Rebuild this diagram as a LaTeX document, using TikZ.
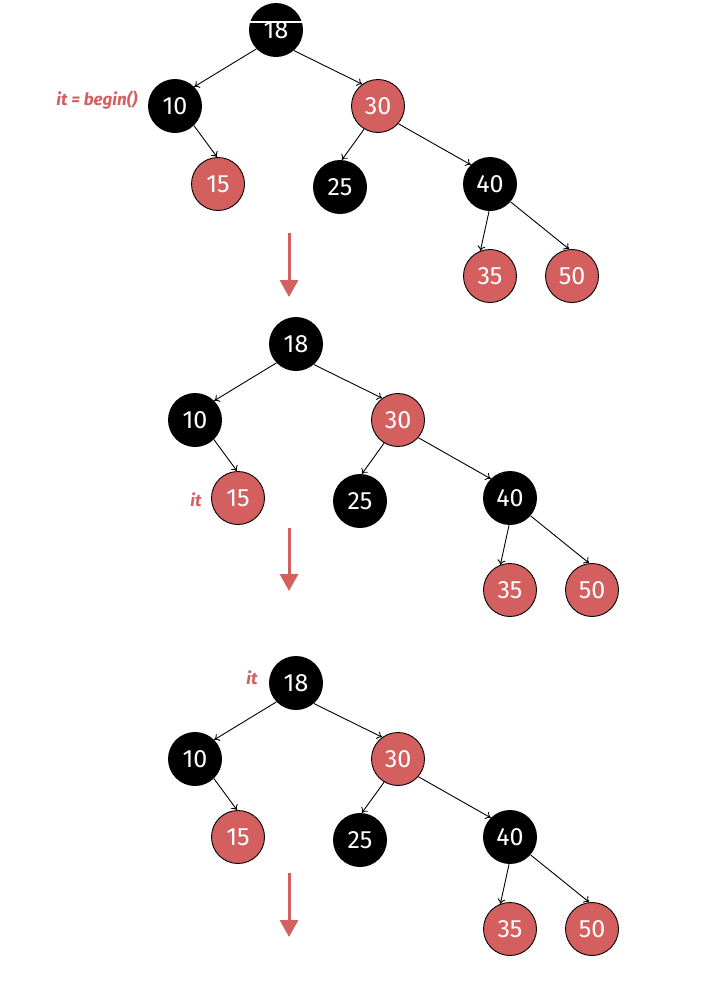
\documentclass[tikz,border=0pt]{standalone}
\usepackage{fontspec}
\setmainfont{Fira Sans}
\usetikzlibrary{arrows.meta}
\definecolor{rbRed}{RGB}{211,95,95}

\begin{document}
\begin{tikzpicture}[x=1pt, y=-1pt,
    every node/.style={font=\fontsize{25}{28}\selectfont},
    blk/.style={circle, fill=black, text=white, minimum size=54pt, inner sep=0pt},
    red/.style={circle, draw=black, line width=0.9pt, fill=rbRed, text=white, minimum size=53pt, inner sep=0pt},
    edge/.style={-{To[length=5pt,width=8pt]}, line width=0.9pt},
    iterlbl/.style={text=rbRed, font=\fontsize{17}{20}\selectfont\bfseries\itshape},
    stepArrow/.style={-{Triangle[length=17pt,width=18pt]}, rbRed, line width=3pt}]
  \useasboundingbox (0,0) rectangle (705,991);
  \clip (0,0) rectangle (705,991);
  % the same tree three times, shifted down the page
  \foreach \t/\dx/\dy in {1/0/0, 2/20/314, 3/20/653}{
    \begin{scope}[shift={(\dx,\dy)}]
      \node[blk] (n\t-18) at (276,30) {18};
      \node[blk] (n\t-10) at (175,106) {10};
      \node[red] (n\t-30) at (378,106) {30};
      \node[red] (n\t-15) at (218,184) {15};
      \node[blk] (n\t-25) at (340,187) {25};
      \node[blk] (n\t-40) at (490,184) {40};
      \node[red] (n\t-35) at (490,276) {35};
      \node[red] (n\t-50) at (572,276) {50};
      % parent.angle -> child.angle
      \foreach \a/\sa/\b/\ea in {18/224/10/45, 18/311/30/126, 10/314/15/92, 30/239/25/86,
                                 30/319/40/135, 40/268/35/111, 40/319/50/96}
        \draw[edge] (n\t-\a.\sa) -- (n\t-\b.\ea);
    \end{scope}
  }
  % white seam across the clipped top root
  \draw[white, line width=1.2pt] (250,22) -- (302,22);
  % iterator labels
  \node[iterlbl, anchor=east] (it1) at (141,100) {it = begin()};
  \node[iterlbl] (it2) at (196,500) {it};
  \node[iterlbl] (it3) at (252,678) {it};
  % steps
  \coordinate (s1) at (289,233); \coordinate (e1) at (289,297);
  \coordinate (s2) at (289,528); \coordinate (e2) at (289,591);
  \coordinate (s3) at (289,873); \coordinate (e3) at (289,937);
  \foreach \i in {1,2,3}
    \draw[stepArrow] (s\i) -- (e\i);
\end{tikzpicture}
\end{document}
